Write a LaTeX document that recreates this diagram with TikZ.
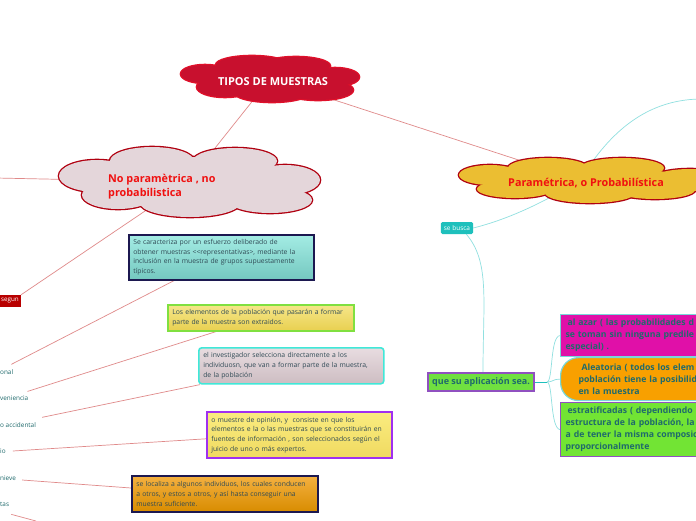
\documentclass[tikz,border=0pt]{standalone}
\usepackage{fontspec}
\setmainfont{Open Sans}
\usetikzlibrary{calc}
\pgfdeclarelayer{back}
\pgfdeclarelayer{bg}
\pgfsetlayers{back,bg,main}
\definecolor{crim}{HTML}{C8102E}
\definecolor{crimline}{HTML}{E0102A}
\definecolor{rosy}{HTML}{E4D6DA}
\definecolor{gold}{HTML}{EBBE32}
\definecolor{dred}{HTML}{B00010}
\definecolor{brightred}{HTML}{F01010}
\definecolor{linkred}{HTML}{E08A8A}
\definecolor{linkcyan}{HTML}{90E0E0}
\definecolor{tealtxt}{HTML}{1F6A6C}
\definecolor{slate}{HTML}{2F4A55}
\definecolor{navy}{HTML}{1C1850}
\definecolor{tealtop}{HTML}{A4ECE4}
\definecolor{tealbot}{HTML}{74C8C0}
\definecolor{yeltop}{HTML}{F6E68A}
\definecolor{yelbot}{HTML}{E8D050}
\definecolor{lgreen}{HTML}{80E040}
\definecolor{pinktop}{HTML}{E8DCE0}
\definecolor{pinkbot}{HTML}{CDBDC2}
\definecolor{cyanb}{HTML}{40E8D8}
\definecolor{y2top}{HTML}{FAEC80}
\definecolor{y2bot}{HTML}{F0DA60}
\definecolor{purp}{HTML}{A030F0}
\definecolor{ortop}{HTML}{F4B040}
\definecolor{orbot}{HTML}{D88C00}
\definecolor{busca}{HTML}{1EC0BC}
\definecolor{segred}{HTML}{B80000}
\definecolor{qgreen}{HTML}{70E040}
\definecolor{qpurp}{HTML}{9050C0}
\definecolor{magen}{HTML}{E010A8}
\definecolor{lcyan}{HTML}{78D8D8}
\definecolor{orng}{HTML}{F8A000}
\definecolor{cgreen}{HTML}{72E434}
\newcommand\puffcloud[3]{%
  \foreach \px/\py/\rx/\ry in {#3}
    \draw[#2, line width=2.6pt] (\px,\py) ellipse [x radius=\rx pt, y radius=\ry pt];
  \foreach \px/\py/\rx/\ry in {#3}
    \fill[#1] (\px,\py) ellipse [x radius=\rx pt, y radius=\ry pt];
}
\begin{document}
\begin{tikzpicture}[x=1pt,y=-1pt,
  anchornode/.style={inner sep=0pt, minimum size=0pt},
  rlink/.style={draw=linkred, line width=0.7pt},
  clink/.style={draw=linkcyan, line width=0.7pt},
  tbox/.style={rectangle, anchor=north west, line width=1.6pt, inner xsep=4.5pt, inner ysep=0pt, align=left, font=\fontsize{6.8}{9.7}\selectfont, text=slate},
  lbl/.style={anchor=west, inner sep=0pt, font=\fontsize{6.4}{7}\selectfont, text=tealtxt},
  rbox/.style={rectangle, anchor=north west, line width=1.2pt, inner xsep=5pt, inner ysep=0pt, align=left, font=\bfseries\fontsize{8.7}{12}\selectfont, text=tealtxt, text width=200pt},
]
\useasboundingbox (0,0) rectangle (696,520);
\begin{pgfonlayer}{back}
\fill[white] (0,0) rectangle (696,520);
\end{pgfonlayer}

% clouds
\puffcloud{crim}{crimline}{205/74/24/9, 252/65/36/9, 296/66/34/9, 335/77/24/9, 318/90/35/10, 272/92/38/10, 225/87/28/10, 270/79/70/18}
\node[anchornode] (c1) at (270,79) {};
\node[font=\bfseries\fontsize{11}{13}\selectfont, text=white] (t1) at (273,82) {TIPOS DE MUESTRAS};

\puffcloud{rosy}{dred}{97/176/38/16, 152/161/42/14, 235/161/42/13, 285/180/35/15, 270/200/42/13, 190/203/50/14, 118/195/36/14, 188/182/100/25}
\node[anchornode] (c2) at (188,182) {};
\node[anchor=west, align=left, inner sep=0pt, font=\bfseries\fontsize{10.8}{14}\selectfont, text=brightred] (t2) at (108,187) {No paramètrica , no\\probabilistica};

\puffcloud{gold}{dred}{490/175/31/10, 548/168/40/10, 622/168/42/10, 690/180/40/11, 655/190/40/9, 590/193/45/10, 515/189/38/9, 580/180/100/15}
\node[anchornode] (c3) at (580,180) {};
\node[font=\bfseries\fontsize{10.8}{13}\selectfont, text=brightred] (t3) at (586,183) {Paramétrica, o Probabilística};

% segun
\node[anchor=east, fill=segred, text=white, inner xsep=2pt, inner ysep=0pt, minimum height=12pt, font=\fontsize{6.3}{7}\selectfont] (sg) at (21,301) {segun};

% left boxes
\node[tbox, draw=navy, top color=tealtop, bottom color=tealbot, minimum width=185pt, minimum height=45pt, text width=176pt] (b1) at (128,234)
  {Se caracteriza por un esfuerzo deliberado de\\obtener muestras <{}<representativas>, mediante la\\inclusión en la muestra de grupos supuestamente\\típicos.};
\node[tbox, draw=lgreen, top color=yeltop, bottom color=yelbot, minimum width=186pt, minimum height=26pt, text width=177pt] (b2) at (167,304)
  {Los elementos de la población que pasarán a formar\\parte de la muestra son extraidos.};
\node[tbox, draw=cyanb, top color=pinktop, bottom color=pinkbot, rounded corners=3pt, minimum width=185pt, minimum height=36pt, text width=176pt] (b3) at (198,347)
  {el investigador selecciona directamente a los\\individuosn, que van a formar parte de la muestra,\\de la población};
\node[tbox, draw=purp, top color=y2top, bottom color=y2bot, minimum width=185pt, minimum height=46pt, text width=176pt] (b4) at (206,411)
  {o muestre de opinión, y\ \ consiste en que los\\elementos e la o las muestras que se constituirán en\\fuentes de información , son seleccionados según el\\juicio de uno o más expertos.};
\node[tbox, draw=navy, top color=ortop, bottom color=orbot, minimum width=186pt, minimum height=36pt, text width=177pt] (b5) at (131,475)
  {se localiza a algunos individuos, los cuales conducen\\a otros, y estos a otros, y así hasta conseguir una\\muestra suficiente.};

% left labels
\node[lbl] (l1) at (0,372) {onal};
\node[lbl] (l2) at (0,398) {veniencia};
\node[lbl] (l3) at (0,425) {o accidental};
\node[lbl] (l4) at (0,451) {io};
\node[lbl] (l5) at (0,478) {nieve};
\node[lbl] (l6) at (0,504) {tas};
\coordinate (bot) at (36,521);
\coordinate (lft) at (-4,178);
\coordinate (tr) at (700,99);
\coordinate (br) at (547,382);

% right side
\node[fill=busca, text=white, rounded corners=1.5pt, inner xsep=3pt, inner ysep=0pt, minimum height=12pt, font=\fontsize{6.5}{7}\selectfont] (sb) at (457,228) {se busca};

\node[fill=qgreen, draw=qpurp, line width=1.2pt, minimum width=106pt, minimum height=18pt, inner sep=0pt, font=\bfseries\fontsize{9}{10}\selectfont, text=tealtxt] (qs) at (481,382) {que su aplicación sea.};

\node[rbox, fill=magen, draw=lcyan, minimum height=42pt] (nA) at (560,314)
  {\hspace{2pt}al azar ( las probabilidades d\\se toman sin ninguna predile\\especial) .};
\node[rbox, fill=orng, draw=lcyan, rounded corners=18pt, minimum height=43pt, inner xsep=18pt] (nB) at (560,357)
  {\hspace{3pt}Aleatoria ( todos los elem\\población tiene la posibilid\\en la muestra};
\node[rbox, fill=cgreen, draw=qpurp, minimum height=54pt] (nC) at (560,402)
  {\hspace{2pt}estratificadas ( dependiendo\\estructura de la población, la\\a de tener la misma composic\\proporcionalmente};

% connectors (behind)
\begin{pgfonlayer}{bg}
\draw[rlink] (c1) -- (c2);
\draw[rlink] (c1) -- (c3);
\draw[rlink] (lft) -- (c2);
\draw[rlink] (c2) -- (sg.north east);
\draw[rlink] ($(l1.north east)+(-2,-5)$) -- ($(b1.south west)+(46,0)$);
\draw[rlink] ($(l2.north east)+(-1,-4)$) -- ($(b2.south west)+(49,0)$);
\draw[rlink] ($(l3.north east)+(6,-5)$) -- ($(b3.south west)+(2,0)$);
\draw[rlink] ($(l4.east)+(7,0)$) -- ($(b4.west)+(0,4)$);
\draw[rlink] ($(l5.east)+(6,2)$) -- ($(b5.north west)+(0,13)$);
\draw[rlink] ($(l6.south east)+(2,8)$) -- (bot);
\draw[clink] (sb.east) .. controls (505,220) and (540,205) .. (c3);
\draw[clink] (c3) .. controls (605,140) and (640,100) .. (tr);
\draw[clink] ($(sb.south east)+(-7,0)$) .. controls (490,262) and (483,300) .. ($(qs.north)+(2,0)$);
\draw[clink, draw=busca] (qs.east) -- (br);
\draw[clink] (br) .. controls (553,382) and (550,336) .. (nA.west);
\draw[clink] (br) .. controls (553,382) and (553,379) .. (nB.west);
\draw[clink] (br) .. controls (553,382) and (550,428) .. (nC.west);
\end{pgfonlayer}
\end{tikzpicture}
\end{document}
